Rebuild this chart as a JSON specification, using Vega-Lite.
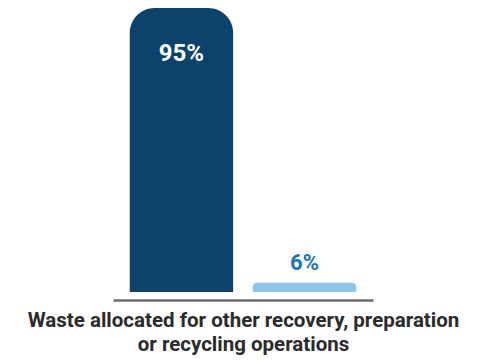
{
  "$schema": "https://vega.github.io/schema/vega-lite/v6.json",
  "autosize": "none",
  "width": 260,
  "height": 284,
  "padding": {"left": 113, "top": 8, "right": 110, "bottom": 68},
  "background": "white",
  "data": {"values": [
    {"category": "Share 1", "value": 95, "label": "95%"},
    {"category": "Share 2", "value": 6, "label": "6%"}
  ]},
  "encoding": {
    "x": {
      "field": "category", "type": "nominal", "sort": null,
      "scale": {"paddingInner": 0.16, "paddingOuter": 0.136},
      "axis": {
        "orient": "bottom", "offset": 8, "labels": false, "ticks": false,
        "domainColor": "#6d6d6d", "domainWidth": 2.5, "domainCap": "butt",
        "title": ["Waste allocated for other recovery, preparation", "or recycling operations"],
        "titleFont": "Roboto", "titleFontSize": 20.5, "titleFontWeight": "bold",
        "titleColor": "#2b2b2b", "titlePadding": 10, "titleLineHeight": 24
      }
    }
  },
  "layer": [
    {
      "transform": [{"filter": "datum.category === 'Share 1'"}],
      "mark": {"type": "bar", "cornerRadiusTopLeft": 25, "cornerRadiusTopRight": 25, "color": "#0b436d"},
      "encoding": {
        "y": {"field": "value", "type": "quantitative", "scale": {"domain": [3, 95], "zero": false, "nice": false}, "axis": null},
        "y2": {"datum": 3}
      }
    },
    {
      "transform": [{"filter": "datum.category === 'Share 2'"}],
      "mark": {"type": "bar", "cornerRadiusTopLeft": 4, "cornerRadiusTopRight": 4, "color": "#8ec5eb"},
      "encoding": {
        "y": {"field": "value", "type": "quantitative"},
        "y2": {"datum": 3}
      }
    },
    {
      "transform": [{"filter": "datum.category === 'Share 1'"}],
      "mark": {"type": "text", "font": "Roboto", "fontWeight": "bold", "fontSize": 24, "color": "white", "baseline": "middle", "dy": 46},
      "encoding": {
        "y": {"field": "value", "type": "quantitative"},
        "text": {"field": "label"}
      }
    },
    {
      "transform": [{"filter": "datum.category === 'Share 2'"}],
      "mark": {"type": "text", "font": "Roboto", "fontWeight": "bold", "fontSize": 22, "color": "#1b74bb", "baseline": "middle", "dy": -20},
      "encoding": {
        "y": {"field": "value", "type": "quantitative"},
        "text": {"field": "label"}
      }
    }
  ],
  "config": {"view": {"stroke": null}}
}
